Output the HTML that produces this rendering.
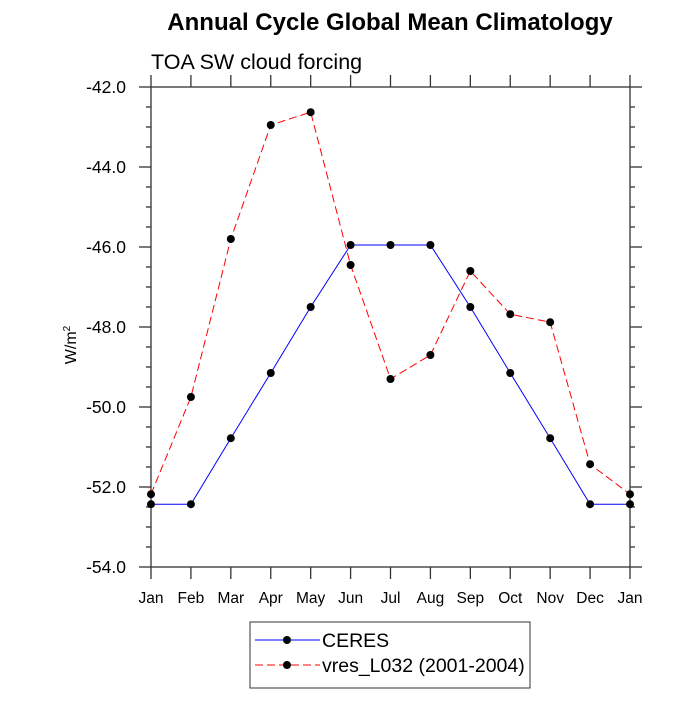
<!DOCTYPE html>
<html><head><meta charset="utf-8"><style>body{margin:0;background:#fff}svg{font-family:"Liberation Sans",sans-serif}</style></head>
<body>
<svg id="c" width="700" height="700"></svg>
<script>
const months=["Jan","Feb","Mar","Apr","May","Jun","Jul","Aug","Sep","Oct","Nov","Dec","Jan"];
const ceres=[-52.43,-52.43,-50.78,-49.15,-47.5,-45.95,-45.95,-45.95,-47.5,-49.15,-50.78,-52.43,-52.43];
const vres=[-52.18,-49.75,-45.8,-42.95,-42.63,-46.45,-49.3,-48.7,-46.6,-47.68,-47.88,-51.43,-52.18];
const yTicks=[-42,-44,-46,-48,-50,-52,-54];
const NS="http://www.w3.org/2000/svg",svg=document.getElementById('c');
const L=151,R=630,T=87,B=567;
const xs=i=>L+i*(R-L)/12, ys=v=>T+(-42-v)/12*(B-T);
function el(t,a,txt){const e=document.createElementNS(NS,t);for(const k in a)e.setAttribute(k,a[k]);if(txt!==undefined)e.textContent=txt;svg.appendChild(e);return e;}
let e;
e=el('text',{x:390,y:30,'text-anchor':'middle','font-size':24,'font-weight':'bold'},'Annual Cycle Global Mean Climatology');

e=el('text',{x:151,y:69,'font-size':21.5},'TOA SW cloud forcing');

e=el('rect',{x:L,y:T,width:R-L,height:B-T,fill:'none',stroke:'#333','stroke-width':1.3});

for(let v=-42;v>=-54;v-=0.5){const y=ys(v),maj=Math.abs(v%2)<1e-9;const len=maj?12:5;
 el('line',{x1:L-len,x2:L,y1:y,y2:y,stroke:'#333','stroke-width':1.3});el('line',{x1:R,x2:R+len,y1:y,y2:y,stroke:'#333','stroke-width':1.3});}
yTicks.forEach(v=>{e=el('text',{x:126,y:ys(v)+6,'text-anchor':'end','font-size':17.5},v.toFixed(1));
 });
months.forEach((m,i)=>{const x=xs(i);el('line',{x1:x,x2:x,y1:B,y2:B+12,stroke:'#333','stroke-width':1.3});el('line',{x1:x,x2:x,y1:T-12,y2:T,stroke:'#333','stroke-width':1.3});
 e=el('text',{x:x,y:603,'text-anchor':'middle','font-size':15.5},m);
 });
e=el('text',{x:0,y:0,'font-size':16,transform:'translate(76,345) rotate(-90)','text-anchor':'middle'});
e.innerHTML='W/m<tspan font-size="10" dy="-6">2</tspan>';

function series(d,color,dash,name){
 e=el('polyline',{points:d.map((v,i)=>xs(i)+','+ys(v)).join(' '),fill:'none',stroke:color,'stroke-width':1,'stroke-dasharray':dash});
 
 d.forEach((v,i)=>{const c=el('circle',{cx:xs(i),cy:ys(v),r:4,fill:'#000'});
  });
}
series(ceres,'#0000ff','none','ceres');
series(vres,'#ff0000','8,4','vres');
e=el('rect',{x:250,y:622,width:280,height:66,fill:'#fff',stroke:'#333'});

[['#0000ff','none','CERES',640],['#ff0000','8,4','vres_L032 (2001-2004)',665]].forEach(([c,d,t,y])=>{
 el('line',{x1:255,x2:320,y1:y,y2:y,stroke:c,'stroke-dasharray':d});el('circle',{cx:287,cy:y,r:4,fill:'#000'});
 e=el('text',{x:322,y:y+7,'font-size':19.5},t);});
</script>
</body></html>
